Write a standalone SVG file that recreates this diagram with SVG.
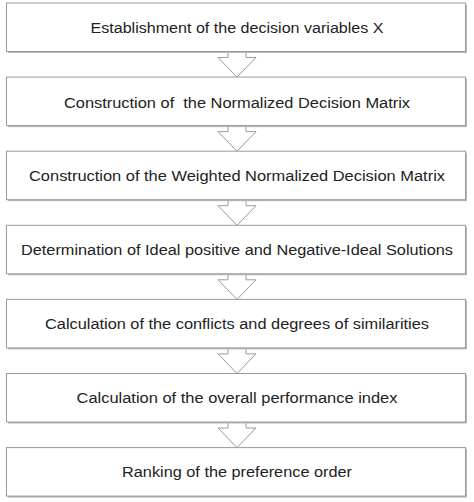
<svg xmlns="http://www.w3.org/2000/svg" width="474" height="502" viewBox="0 0 474 502">
<style>
.shadow{fill:#b8b8b8;}
.box{fill:#ffffff;stroke:#9a9a9a;stroke-width:1;}
.arrow{fill:#ffffff;stroke:#9a9a9a;stroke-width:1;stroke-linejoin:miter;}
.label{font-family:"Liberation Sans","Open Sans",Arial,sans-serif;font-size:14px;fill:#222222;text-anchor:middle;}
</style>
<rect width="474" height="502" fill="#ffffff"/>
<g id="connectors">
<polygon class="arrow" points="228,48 228,57.5 218,57.5 237,77.1 256,57.5 246,57.5 246,48"/>
<polygon class="arrow" points="228,122 228,131.6 218,131.6 237,151.2 256,131.6 246,131.6 246,122"/>
<polygon class="arrow" points="228,196 228,205.7 218,205.7 237,225.3 256,205.7 246,205.7 246,196"/>
<polygon class="arrow" points="228,270 228,279.8 218,279.8 237,299.4 256,279.8 246,279.8 246,270"/>
<polygon class="arrow" points="228,344 228,353.9 218,353.9 237,373.5 256,353.9 246,353.9 246,344"/>
<polygon class="arrow" points="228,418 228,428 218,428 237,447.6 256,428 246,428 246,418"/>
</g>
<g id="node1">
<rect class="shadow" x="8" y="4.5" width="459" height="48.5"/>
<rect class="box" x="6.5" y="3" width="459" height="48.5"/>
<text class="label" x="237" y="33" textLength="293" lengthAdjust="spacingAndGlyphs">Establishment of the decision variables X</text>
</g>
<g id="node2">
<rect class="shadow" x="8" y="78.6" width="459" height="48.5"/>
<rect class="box" x="6.5" y="77.1" width="459" height="48.5"/>
<text class="label" x="237" y="107.5" textLength="346" lengthAdjust="spacingAndGlyphs" xml:space="preserve">Construction of  the Normalized Decision Matrix</text>
</g>
<g id="node3">
<rect class="shadow" x="8" y="152.7" width="459" height="48.5"/>
<rect class="box" x="6.5" y="151.2" width="459" height="48.5"/>
<text class="label" x="237" y="181" textLength="416" lengthAdjust="spacingAndGlyphs">Construction of the Weighted Normalized Decision Matrix</text>
</g>
<g id="node4">
<rect class="shadow" x="8" y="226.8" width="459" height="48.5"/>
<rect class="box" x="6.5" y="225.3" width="459" height="48.5"/>
<text class="label" x="237" y="255" textLength="432" lengthAdjust="spacingAndGlyphs">Determination of Ideal positive and Negative-Ideal Solutions</text>
</g>
<g id="node5">
<rect class="shadow" x="8" y="300.9" width="459" height="48.5"/>
<rect class="box" x="6.5" y="299.4" width="459" height="48.5"/>
<text class="label" x="237" y="328.5" textLength="384" lengthAdjust="spacingAndGlyphs">Calculation of the conflicts and degrees of similarities</text>
</g>
<g id="node6">
<rect class="shadow" x="8" y="375" width="459" height="48.5"/>
<rect class="box" x="6.5" y="373.5" width="459" height="48.5"/>
<text class="label" x="237" y="402.5" textLength="321" lengthAdjust="spacingAndGlyphs">Calculation of the overall performance index</text>
</g>
<g id="node7">
<rect class="shadow" x="8" y="449.1" width="459" height="48.5"/>
<rect class="box" x="6.5" y="447.6" width="459" height="48.5"/>
<text class="label" x="237" y="477" textLength="230" lengthAdjust="spacingAndGlyphs">Ranking of the preference order</text>
</g>
</svg>
